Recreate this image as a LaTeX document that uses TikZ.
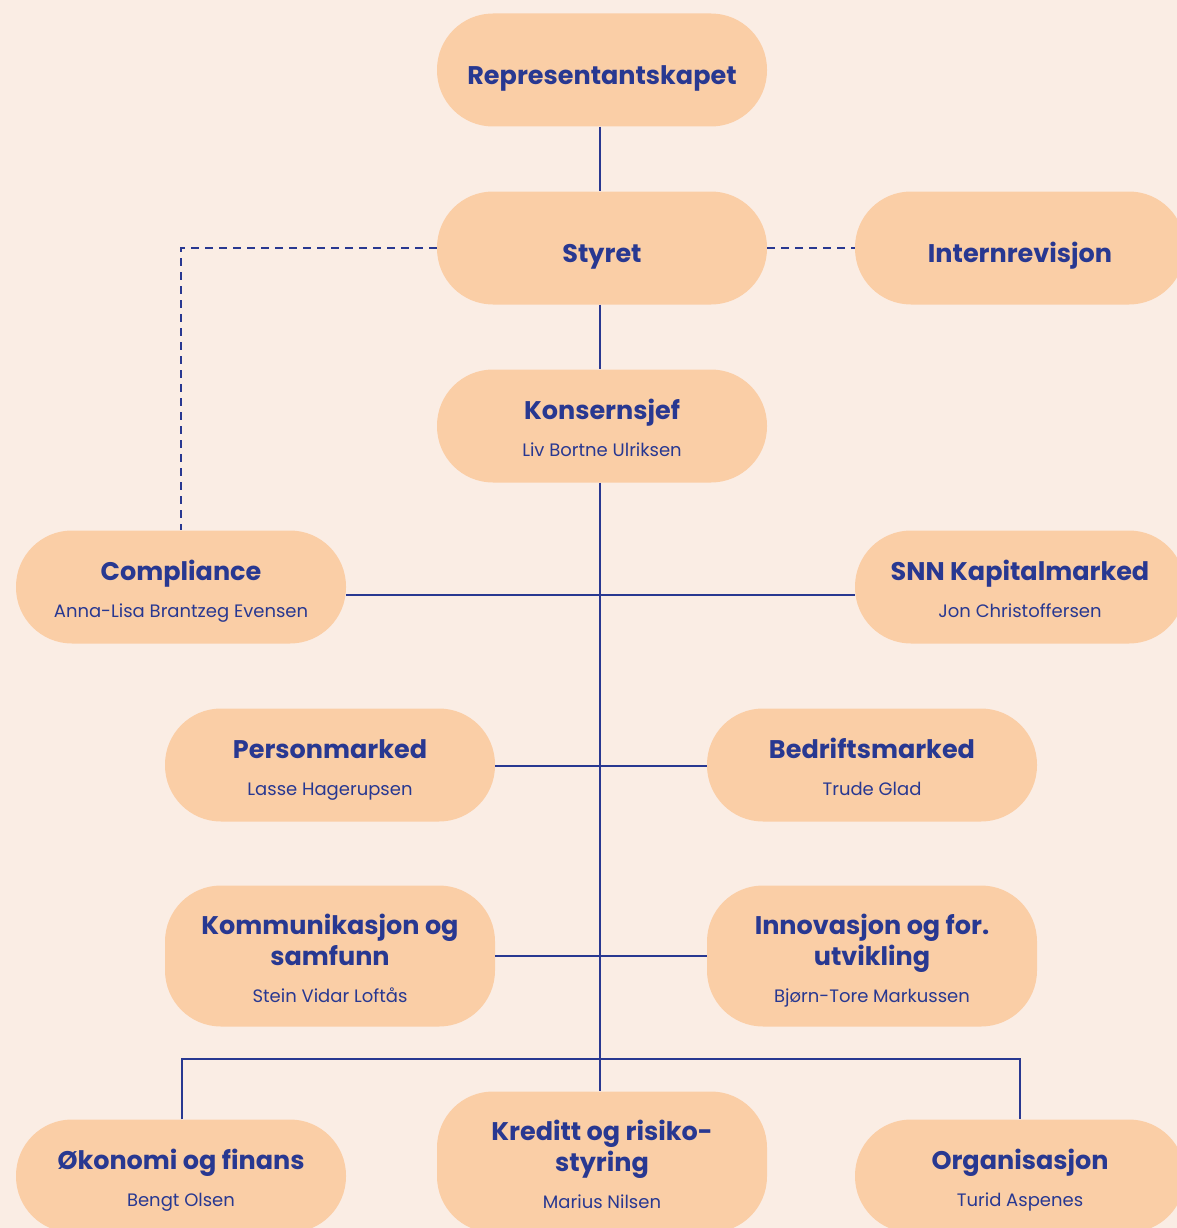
\documentclass[tikz,border=0pt]{standalone}
\usepackage{fontspec}
\setmainfont{Poppins}
\definecolor{bgc}{RGB}{250,237,228}
\definecolor{pillc}{RGB}{250,206,166}
\definecolor{navy}{RGB}{40,56,145}
\newcommand{\ttl}{\fontsize{25.5}{31}\selectfont\bfseries}
\newcommand{\sbt}{\fontsize{18}{22}\selectfont\mdseries}
\tikzset{
  pill/.style={rectangle, rounded corners=56pt, fill=pillc, text=navy,
    minimum width=330pt, minimum height=113pt, align=center, inner sep=0pt,
    font=\ttl},
  one/.style={text height=29pt, text depth=0pt},
  two/.style={text height=61pt, text depth=0pt},
  three/.style={minimum height=141pt, text height=92pt, text depth=0pt},
  link/.style={draw=navy, line width=2pt},
  dlink/.style={draw=navy, line width=2pt, dash pattern=on 8pt off 6pt}
}
\begin{document}
\begin{tikzpicture}[x=1pt,y=-1pt]
\useasboundingbox (0,0) rectangle (1177,1228);
\clip (0,0) rectangle (1177,1228);
\fill[bgc] (0,0) rectangle (1177,1228);

% nodes
\node[pill,one] (rep) at (602,70) {Representantskapet};
\node[pill,one] (sty) at (602,248) {Styret};
\node[pill,one] (int) at (1020,248) {Internrevisjon};
\node[pill,two] (kon) at (602,426) {Konsernsjef\\[6pt]{\sbt Liv Bortne Ulriksen}};
\node[pill,two] (com) at (181,587) {Compliance\\[6pt]{\sbt Anna-Lisa Brantzeg Evensen}};
\node[pill,two] (snn) at (1020,587) {SNN Kapitalmarked\\[6pt]{\sbt Jon Christoffersen}};
\node[pill,two] (per) at (330,765) {Personmarked\\[6pt]{\sbt Lasse Hagerupsen}};
\node[pill,two] (bed) at (872,765) {Bedriftsmarked\\[6pt]{\sbt Trude Glad}};
\node[pill,three] (kom) at (330,956) {Kommunikasjon og\\samfunn\\[6pt]{\sbt Stein Vidar Loftås}};
\node[pill,three] (inn) at (872,956) {Innovasjon og for.\\utvikling\\[6pt]{\sbt Bjørn-Tore Markussen}};
\node[pill,two] (oko) at (181,1176) {Økonomi og finans\\[6pt]{\sbt Bengt Olsen}};
\node[pill,three] (kre) at (602,1162) {Kreditt og risiko-\\styring\\[6pt]{\sbt Marius Nilsen}};
\node[pill,two] (org) at (1020,1176) {Organisasjon\\[6pt]{\sbt Turid Aspenes}};

% junction coordinates on the trunk
\coordinate (jc) at (600,595);
\coordinate (jp) at (600,766);
\coordinate (jk) at (600,956);
\coordinate (jb) at (600,1059);
\coordinate (bl) at (182,1059);
\coordinate (br) at (1020,1059);
\coordinate (dl) at (181,248);

% trunk
\draw[link] (rep.south -| jc) -- (sty.north -| jc);
\draw[link] (sty.south -| jc) -- (kon.north -| jc);
\draw[link] (kon.south -| jc) -- (kre.north -| jc);
% branches
\draw[link] (com.east |- jc) -- (snn.west |- jc);
\draw[link] (per.east |- jp) -- (bed.west |- jp);
\draw[link] (kom.east |- jk) -- (inn.west |- jk);
\draw[link] (oko.north -| bl) -- (bl) -- (br) -- (org.north -| br);
% dashed
\draw[dlink] (sty.west) -- (dl) -- (com.north -| dl);
\draw[dlink] (sty.east) -- (int.west);
\end{tikzpicture}
\end{document}
